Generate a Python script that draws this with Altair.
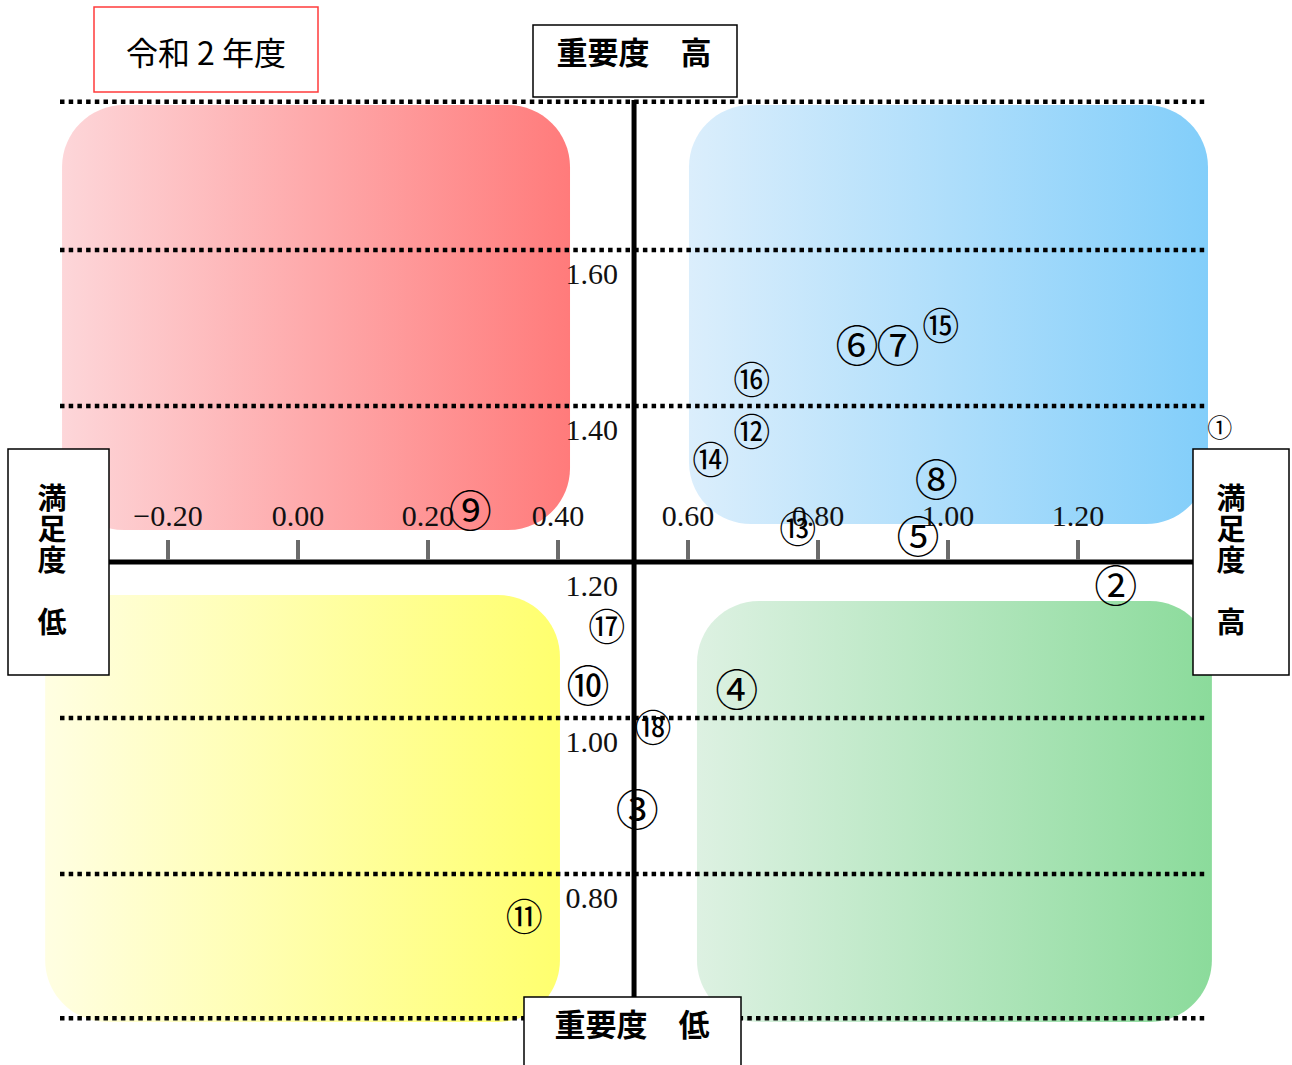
import altair as alt
import pandas as pd

# Items plotted on the satisfaction / importance matrix
item_labels = ["①", "②", "③", "④", "⑤", "⑥", "⑦", "⑧", "⑨", "⑩",
               "⑪", "⑫", "⑬", "⑭", "⑮", "⑯", "⑰", "⑱"]
satisfaction = [1.418, 1.258, 0.522, 0.675, 0.954, 0.860, 0.923, 0.982, 0.265,
                0.446, 0.348, 0.698, 0.769, 0.635, 0.989, 0.698, 0.475, 0.546]
importance = [1.374, 1.169, 0.882, 1.036, 1.232, 1.477, 1.477, 1.305, 1.265,
              1.041, 0.745, 1.367, 1.242, 1.331, 1.503, 1.433, 1.117, 0.987]

# Axis tick labels
x_ticks = [-0.20, 0.00, 0.20, 0.40, 0.60, 0.80, 1.00, 1.20]
x_tick_text = ["−0.20", "0.00", "0.20", "0.40", "0.60", "0.80", "1.00", "1.20"]
y_ticks = [1.60, 1.40, 1.20, 1.00, 0.80]
y_tick_text = ["1.60", "1.40", "1.20", "1.00", "0.80"]

# Dotted reference lines and the crossing point of the two main axes
grid_levels = [1.79, 1.60, 1.40, 1.00, 0.80, 0.615]
center_x = 0.517
center_y = 1.20

W, H = 1292, 1065
xs = alt.Scale(domain=[-0.458462, 1.529231], nice=False, zero=False)
ys = alt.Scale(domain=[0.555128, 1.920513], nice=False, zero=False)

items = pd.DataFrame({"label": item_labels, "x": satisfaction, "y": importance})
items["fs"] = [25] + [43] * 9 + [37] * 8


def grad(c0, c1):
    return alt.LinearGradient(
        gradient="linear", x1=0, x2=1, y1=0, y2=0,
        stops=[alt.GradientStop(color=c0, offset=0),
               alt.GradientStop(color=c1, offset=1)])


# Quadrant backgrounds
quads = [
    ((-0.363, 0.4185, 1.786, 1.241), "#fdd6d9", "#ff7b7b"),
    ((0.6015, 1.400, 1.786, 1.2487), "#dbeefc", "#82cefa"),
    ((-0.389, 0.403, 1.1577, 0.6103), "#fffee2", "#ffff6e"),
    ((0.6138, 1.406, 1.150, 0.6103), "#ddf1e2", "#8bdb9b"),
]
layers = []
for (x0, x1, y0, y1), c0, c1 in quads:
    df = pd.DataFrame({"x": [x0], "x2": [x1], "y": [y0], "y2": [y1]})
    layers.append(
        alt.Chart(df).mark_rect(fill=grad(c0, c1), cornerRadius=62).encode(
            x=alt.X("x:Q", scale=xs, axis=None), x2="x2:Q",
            y=alt.Y("y:Q", scale=ys, axis=None), y2="y2:Q"))

# Dotted gridlines
grid = alt.Chart(pd.DataFrame({"y": grid_levels})).mark_rule(
    color="#000000", strokeWidth=4.5, strokeDash=[4.5, 4.2]).encode(
    y=alt.Y("y:Q", scale=ys, axis=None), x=alt.value(60), x2=alt.value(1207))
layers.append(grid)

# Main axes
h_axis = alt.Chart(pd.DataFrame({"y": [center_y]})).mark_rule(
    color="#000000", strokeWidth=5).encode(
    y=alt.Y("y:Q", scale=ys, axis=None), x=alt.value(108), x2=alt.value(1195))
v_axis = alt.Chart(pd.DataFrame({"x": [center_x]})).mark_rule(
    color="#000000", strokeWidth=5).encode(
    x=alt.X("x:Q", scale=xs, axis=None), y=alt.value(100), y2=alt.value(997))
layers += [h_axis, v_axis]

# Tick marks and labels for satisfaction
xt = pd.DataFrame({"x": x_ticks, "t": x_tick_text})
ticks = alt.Chart(xt).mark_rule(color="#6b6b6b", strokeWidth=4).encode(
    x=alt.X("x:Q", scale=xs, axis=None), y=alt.value(540), y2=alt.value(560))
x_lab = alt.Chart(xt).mark_text(
    font="Liberation Serif", fontSize=30, baseline="middle", align="center",
    color="#111111").encode(
    x=alt.X("x:Q", scale=xs, axis=None), y=alt.value(517), text="t:N")
layers += [ticks, x_lab]

# Labels for importance
yt = pd.DataFrame({"y": y_ticks, "t": y_tick_text})
y_lab = alt.Chart(yt).mark_text(
    font="Liberation Serif", fontSize=30, baseline="middle", align="right",
    color="#111111", dy=25).encode(
    y=alt.Y("y:Q", scale=ys, axis=None), x=alt.value(618), text="t:N")
layers.append(y_lab)

# Item markers
layers.append(
    alt.Chart(items).mark_text(font="Noto Sans CJK JP", baseline="middle",
                               align="center", color="#000000", dy=3).encode(
        x=alt.X("x:Q", scale=xs, axis=None),
        y=alt.Y("y:Q", scale=ys, axis=None),
        size=alt.Size("fs:Q", scale=None, legend=None),
        text="label:N"))

# Caption boxes
boxes = [
    (94, 318, 7, 92, "#ff3b3b"),
    (533, 737, 25, 97, "#000000"),
    (524, 741, 997, 1075, "#000000"),
    (8, 109, 449, 675, "#000000"),
    (1193, 1289, 449, 675, "#000000"),
]
for x0, x1, y0, y1, stroke in boxes:
    layers.append(
        alt.Chart(pd.DataFrame({"k": [0]})).mark_rect(
            fill="#ffffff", stroke=stroke, strokeWidth=1.5).encode(
            x=alt.value(x0), x2=alt.value(x1), y=alt.value(y0), y2=alt.value(y1)))

# Caption texts: (text, centre x, centre y, bold, size)
captions = [
    ("令和 2 年度", 206, 55, False, 32),
    ("重要度　高", 634, 55, True, 31),
    ("重要度　低", 632, 1027, True, 31),
]
# Vertical captions, one character per row
for cx, last in [(52, "低"), (1231, "高")]:
    for ch, cy in zip(["満", "足", "度", last], [500, 531, 562, 624]):
        captions.append((ch, cx, cy, True, 29))

for txt, cx, cy, bold, fs in captions:
    layers.append(
        alt.Chart(pd.DataFrame({"t": [txt]})).mark_text(
            font="Noto Sans CJK JP", fontSize=fs,
            fontWeight="bold" if bold else "normal",
            baseline="middle", align="center", color="#000000").encode(
            x=alt.value(cx), y=alt.value(cy), text="t:N"))

chart = alt.layer(*layers).properties(
    width=W, height=H, autosize=alt.AutoSizeParams(type="none"), padding=0,
    background="#ffffff"
).configure_view(stroke=None)

chart.save("out.html", embed_options={"renderer": "svg", "actions": False})
